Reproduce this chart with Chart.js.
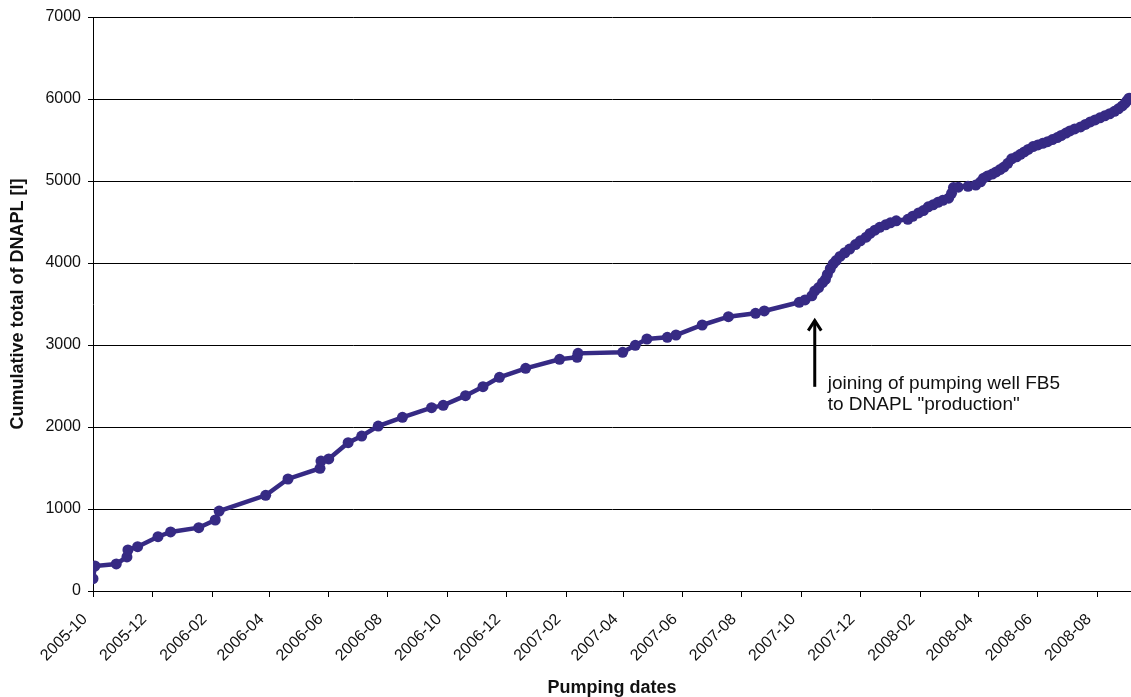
<!DOCTYPE html>
<html>
<head>
<meta charset="utf-8">
<script src="https://cdn.jsdelivr.net/npm/chart.js@4.4.1/dist/chart.umd.min.js"></script>
<style>
  html, body { margin: 0; padding: 0; background: #ffffff; }
  #wrap { width: 1131px; height: 697px; position: relative; }
</style>
</head>
<body>
<div id="wrap"><canvas id="c" width="1131" height="697"></canvas></div>
<script>
// ---- data ----
const startDate = '2005-10-01';            // day 0 of the x axis
// pumping dates, as days after startDate
const pumpingDays = [
  0, 2, 24, 35, 36, 46, 67, 80, 109, 126,
  130, 178, 201, 234, 235, 243, 263, 277, 294, 319,
  349, 361, 384, 402, 419, 446, 481, 499, 500, 546,
  559, 571, 592, 601, 628, 655, 683, 692, 728, 734,
  741, 744, 748, 752, 755, 757, 760, 763, 766, 770,
  775, 780, 786, 791, 797, 801, 806, 811, 817, 822,
  828, 840, 845, 851, 856, 861, 866, 871, 876, 882,
  885, 887, 892, 902, 910, 915, 918, 922, 927, 931,
  935, 939, 943, 947, 952, 956, 960, 964, 969, 974,
  979, 984, 989, 994, 998, 1003, 1007, 1012, 1018, 1023,
  1028, 1033, 1038, 1043, 1048, 1053, 1057, 1061, 1064, 1066,
  1068
];
// cumulative total of DNAPL [l]
const cumulativeDNAPL = [
  150, 305, 330, 415, 500, 540, 662, 720, 772, 866,
  975, 1167, 1366, 1496, 1585, 1610, 1809, 1890, 2012, 2118,
  2236, 2264, 2382, 2492, 2606, 2716, 2826, 2850, 2898, 2911,
  2996, 3073, 3094, 3122, 3244, 3345, 3386, 3415, 3521, 3549,
  3600, 3660, 3700, 3760, 3800, 3860, 3930, 3990, 4030, 4080,
  4125, 4170, 4225, 4270, 4315, 4360, 4400, 4435, 4465, 4490,
  4515, 4533, 4570, 4610, 4640, 4685, 4710, 4740, 4765, 4790,
  4850, 4920, 4925, 4935, 4950, 4990, 5035, 5060, 5085, 5110,
  5140, 5170, 5215, 5270, 5295, 5325, 5355, 5385, 5420, 5440,
  5460, 5480, 5505, 5530, 5555, 5585, 5610, 5635, 5660, 5690,
  5720, 5745, 5770, 5795, 5820, 5850, 5880, 5915, 5950, 5980,
  6010
];
// x tick labels (month starts)
const monthLabels = [
  '2005-10', '2005-12', '2006-02', '2006-04', '2006-06', '2006-08',
  '2006-10', '2006-12', '2007-02', '2007-04', '2007-06', '2007-08',
  '2007-10', '2007-12', '2008-02', '2008-04', '2008-06', '2008-08'
];
const yTickValues = [0, 1000, 2000, 3000, 4000, 5000, 6000, 7000];
const xAxisEndDay = 1070;
// annotation
const noteDay = 744;
const noteArrowTip = 3310;
const noteArrowBase = 2490;
const noteLines = ['joining of pumping well FB5', 'to DNAPL "production"'];

// ---- helpers ----
const DAY_MS = 86400000;
const start = new Date(startDate + 'T00:00:00Z').getTime();
function dayOf(label) {
  const [y, m] = label.split('-').map(Number);
  return Math.round((Date.UTC(y, m - 1, 1) - start) / DAY_MS);
}
const tickDays = monthLabels.map(dayOf);
const labelByDay = {};
monthLabels.forEach((l, i) => { labelByDay[tickDays[i]] = l; });

const points = pumpingDays.map((d, i) => ({ x: d, y: cumulativeDNAPL[i] }));

const FONT = '"Liberation Sans", Arial, Helvetica, sans-serif';
const LINE_COLOR = '#362a84';

const notePlugin = {
  id: 'note',
  afterDatasetsDraw(chart) {
    const { ctx, scales } = chart;
    const x = scales.x.getPixelForValue(noteDay);
    const yTip = scales.y.getPixelForValue(noteArrowTip);
    const yBase = scales.y.getPixelForValue(noteArrowBase);
    ctx.save();
    ctx.strokeStyle = '#000';
    ctx.lineWidth = 3;
    ctx.lineCap = 'butt';
    ctx.beginPath();
    ctx.moveTo(x, yBase);
    ctx.lineTo(x, yTip + 1);
    ctx.stroke();
    ctx.beginPath();
    ctx.lineJoin = 'miter';
    ctx.moveTo(x - 6.5, yTip + 11);
    ctx.lineTo(x, yTip + 1);
    ctx.lineTo(x + 6.5, yTip + 11);
    ctx.stroke();
    ctx.fillStyle = '#111';
    ctx.font = '19px ' + FONT;
    ctx.textAlign = 'left';
    ctx.textBaseline = 'alphabetic';
    ctx.fillText(noteLines[0], x + 13, yBase + 2);
    ctx.fillText(noteLines[1], x + 13, yBase + 23);
    ctx.restore();
  }
};

new Chart(document.getElementById('c'), {
  type: 'line',
  data: {
    datasets: [{
      data: points,
      borderColor: LINE_COLOR,
      backgroundColor: LINE_COLOR,
      borderWidth: 4.5,
      pointRadius: 5.5,
      pointBackgroundColor: LINE_COLOR,
      pointBorderWidth: 0,
      pointHoverRadius: 5.5,
      tension: 0,
      fill: false
    }]
  },
  options: {
    responsive: false,
    animation: false,
    devicePixelRatio: 1,
    layout: { autoPadding: false, padding: { top: 17, right: 0, left: 0, bottom: 0 } },
    plugins: { legend: { display: false }, tooltip: { enabled: false } },
    scales: {
      x: {
        type: 'linear',
        min: 0,
        max: xAxisEndDay,
        afterBuildTicks(scale) { scale.ticks = tickDays.map(v => ({ value: v })); },
        afterFit(scale) { scale.height = 106; scale.paddingRight = 0; },
        ticks: {
          autoSkip: false,
          minRotation: 45,
          maxRotation: 45,
          padding: 13,
          labelOffset: -8,
          color: '#111',
          font: { family: FONT, size: 16 },
          callback: (v) => labelByDay[v] ?? ''
        },
        grid: { drawOnChartArea: false, drawTicks: true, tickLength: 6, color: '#000', lineWidth: 1 },
        border: { display: true, color: '#000', width: 1 },
        title: {
          display: true,
          text: 'Pumping dates',
          color: '#111',
          font: { family: FONT, size: 18, weight: 'bold', lineHeight: 1 },
          padding: { top: 0, bottom: 0 }
        }
      },
      y: {
        min: 0,
        max: 7000,
        afterBuildTicks(scale) { scale.ticks = yTickValues.map(v => ({ value: v })); },
        afterFit(scale) { scale.width = 93; },
        ticks: {
          padding: 7,
          color: '#111',
          font: { family: FONT, size: 16 },
          callback: (v) => String(v)
        },
        grid: { color: '#000', lineWidth: 1, drawTicks: true, tickLength: 5 },
        border: { display: true, color: '#000', width: 1 },
        title: {
          display: true,
          text: 'Cumulative total of DNAPL [l]',
          color: '#111',
          font: { family: FONT, size: 18, weight: 'bold' },
          padding: { top: 7, bottom: 0 }
        }
      }
    }
  },
  plugins: [notePlugin]
});
</script>
</body>
</html>
